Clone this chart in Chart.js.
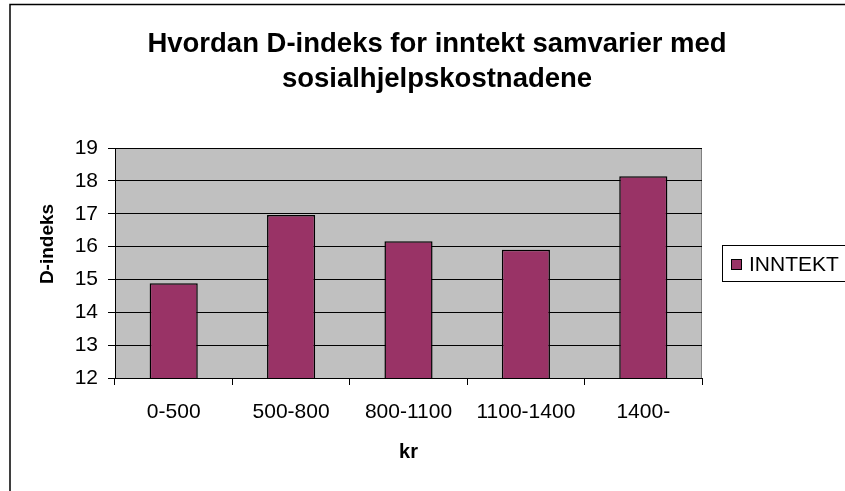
<!DOCTYPE html>
<html>
<head>
<meta charset="utf-8">
<script src="https://cdn.jsdelivr.net/npm/chart.js@4"></script>
<style>
html,body{margin:0;padding:0;background:#fff;}
#wrap{width:845px;height:491px;position:relative;}
</style>
</head>
<body>
<div id="wrap"><canvas id="c" width="845" height="491"></canvas></div>
<script>
const categories = ["0-500", "500-800", "800-1100", "1100-1400", "1400-"];
const inntekt = [14.88, 16.96, 16.16, 15.9, 18.14];
const seriesName = "INNTEKT";
const titleLines = ["Hvordan D-indeks for inntekt samvarier med", "sosialhjelpskostnadene"];
const yTitle = "D-indeks";
const xTitle = "kr";
const yMin = 12, yMax = 19, yStep = 1;

const FONT = "'Liberation Sans', Arial, sans-serif";
const BAR = "#993366";

const decor = {
  id: "decor",
  beforeDraw(chart) {
    const ctx = chart.ctx;
    const a = chart.chartArea;
    ctx.save();
    ctx.fillStyle = "#fff";
    ctx.fillRect(0, 0, chart.width, chart.height);
    ctx.strokeStyle = "#000";
    ctx.lineWidth = 1.5;
    ctx.beginPath();
    ctx.moveTo(10, chart.height);
    ctx.lineTo(10, 4.5);
    ctx.lineTo(chart.width, 4.5);
    ctx.stroke();
    ctx.fillStyle = "#C0C0C0";
    ctx.fillRect(a.left, a.top, a.right - a.left, a.bottom - a.top);
    ctx.strokeStyle = "#808080";
    ctx.lineWidth = 1;
    ctx.strokeRect(a.left + 0.5, a.top + 0.5, a.right - a.left - 1, a.bottom - a.top);
    ctx.restore();
  },
  afterDraw(chart) {
    const ctx = chart.ctx;
    ctx.save();
    ctx.fillStyle = "#000";
    ctx.font = "bold 27.5px " + FONT;
    ctx.textAlign = "center";
    ctx.textBaseline = "alphabetic";
    ctx.fillText(titleLines[0], 437, 52);
    ctx.fillText(titleLines[1], 437, 87);
    ctx.save();
    ctx.translate(53, 244);
    ctx.rotate(-Math.PI / 2);
    ctx.font = "bold 19px " + FONT;
    ctx.textAlign = "center";
    ctx.textBaseline = "alphabetic";
    ctx.fillText(yTitle, 0, 0);
    ctx.restore();
    const ds = chart.data.datasets[0];
    ctx.strokeStyle = "#000";
    ctx.lineWidth = 1;
    ctx.strokeRect(722.5, 245.5, 140, 36);
    ctx.fillStyle = ds.backgroundColor;
    ctx.fillRect(731, 259, 11, 11);
    ctx.strokeRect(731.5, 259.5, 10, 10);
    ctx.fillStyle = "#000";
    ctx.font = "21px " + FONT;
    ctx.textAlign = "left";
    ctx.textBaseline = "middle";
    ctx.fillText(ds.label, 749, 265);
    ctx.restore();
  }
};

new Chart(document.getElementById("c"), {
  type: "bar",
  data: {
    labels: categories,
    datasets: [{
      label: seriesName,
      data: inntekt,
      backgroundColor: BAR,
      borderColor: "#000",
      borderWidth: 1.5,
      borderSkipped: false,
      barPercentage: 0.41,
      categoryPercentage: 1.0
    }]
  },
  options: {
    responsive: false,
    animation: false,
    devicePixelRatio: 1,
    layout: { padding: { top: 148, right: 143, left: 0, bottom: 0 } },
    plugins: {
      legend: { display: false },
      title: { display: false },
      tooltip: { enabled: false }
    },
    scales: {
      x: {
        afterFit(s) { s.height = 113; },
        grid: { display: true, drawOnChartArea: false, drawTicks: true, tickLength: 7, color: "#000", offset: true },
        border: { display: true, color: "#000", width: 1 },
        ticks: { color: "#000", font: { family: FONT, size: 21 }, padding: 15, maxRotation: 0, autoSkip: false },
        title: { display: true, text: xTitle, color: "#000", font: { family: FONT, size: 20, weight: "bold" }, padding: { top: 0, bottom: 27 } }
      },
      y: {
        min: yMin, max: yMax,
        afterFit(s) { s.width = 115; },
        grid: { color: "#000", lineWidth: 1, tickLength: 7, drawTicks: true },
        border: { display: true, color: "#000", width: 1 },
        ticks: { stepSize: yStep, color: "#000", font: { family: FONT, size: 21 }, padding: 10 }
      }
    }
  },
  plugins: [decor]
});
</script>
</body>
</html>
